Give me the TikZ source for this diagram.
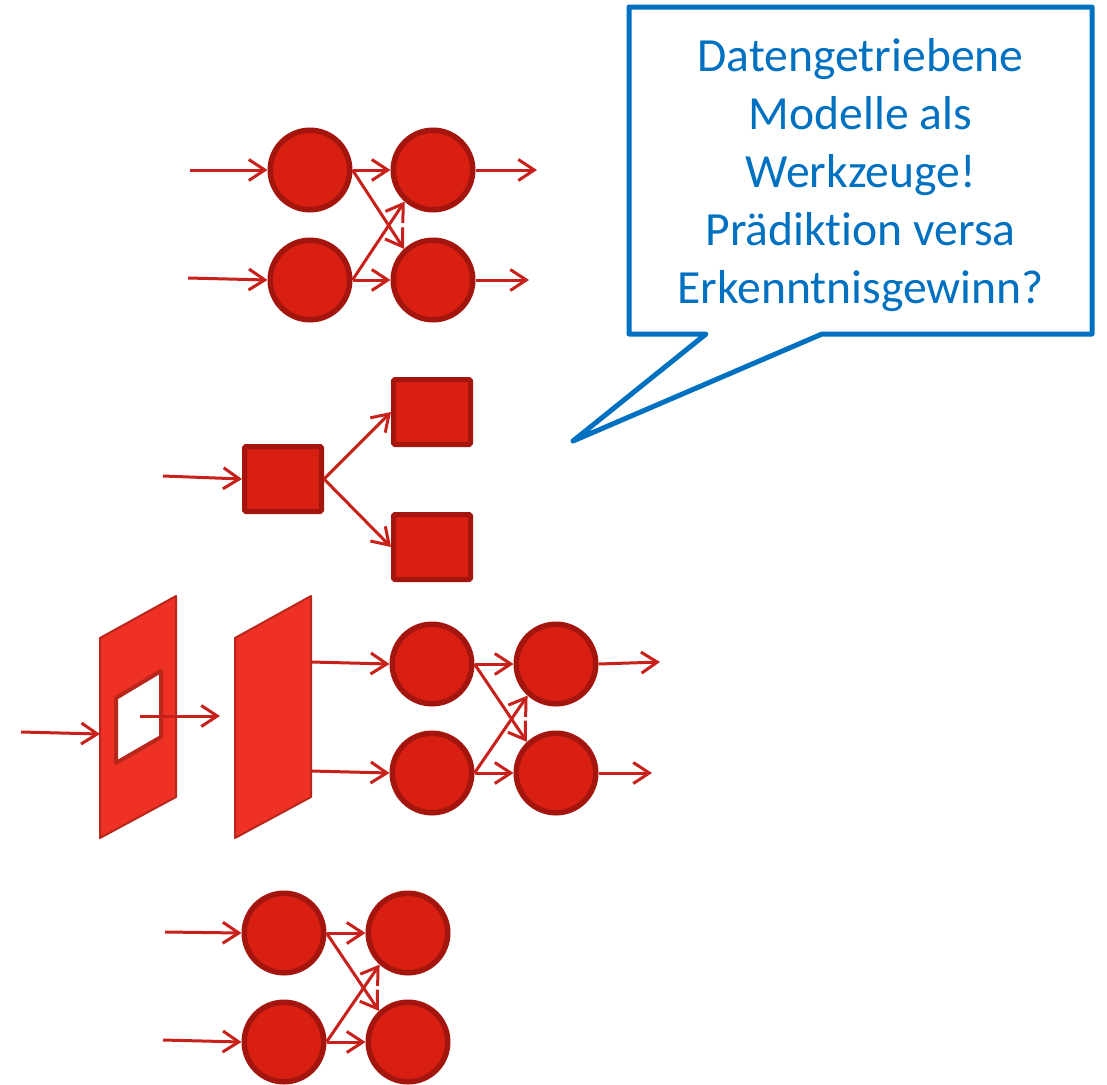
\documentclass[tikz,border=0pt]{standalone}
\usepackage{fontspec}
\setmainfont{Carlito}[Ligatures=NoCommon]
\usetikzlibrary{arrows.meta}
\definecolor{cfill}{HTML}{D91F11}
\definecolor{cedge}{HTML}{A3150D}
\definecolor{aline}{HTML}{C8201A}
\definecolor{pfill}{HTML}{EE3124}
\definecolor{pedge}{HTML}{B9261C}
\definecolor{cblue}{HTML}{0070C0}
\tikzset{
  neuron/.style={circle, fill=cfill, draw=cedge, line width=5.5pt, minimum size=79.5pt, inner sep=0pt},
  treebox/.style={rectangle, fill=cfill, draw=cedge, line width=5pt, minimum width=77pt, minimum height=65pt, inner sep=0pt, rounded corners=1.5pt},
  conn/.style={draw=aline, line width=3pt, -{Straight Barb[length=16pt,width=21pt]}},
  panel/.style={fill=pfill, draw=pedge, line width=2pt, line join=round},
  hole/.style={fill=white, draw=pedge, line width=4pt, line join=round},
  bubble/.style={draw=cblue, line width=5pt, line join=round},
  bubbletext/.style={text=cblue, align=center, inner sep=0pt, font=\fontsize{47.6}{58}\selectfont}
}
\begin{document}
\begin{tikzpicture}[x=1pt,y=-1pt]
\useasboundingbox (0,0) rectangle (1107,1084);

% ---------- group 1 ----------
\node[neuron] (a1) at (310,170) {};
\node[neuron] (a2) at (310,280) {};
\node[neuron] (b1) at (433,170) {};
\node[neuron] (b2) at (433,280) {};
\coordinate (ai1) at (190,170);
\coordinate (ai2) at (188,278);
\coordinate (bo1) at (537,170);
\coordinate (bo2) at (529,280);
\draw[conn] (ai1) -- (a1.west);
\draw[conn] (ai2) -- (a2.west);
\draw[conn] (a1.east) -- (b1.west);
\draw[conn] (a2.east) -- (b2.west);
\draw[conn] (a1.east) -- (b2.133);
\draw[conn] (a2.east) -- (b1.228);
\draw[conn] (b1.east) -- (bo1);
\draw[conn] (b2.east) -- (bo2);

% ---------- group 2 (tree) ----------
\node[treebox] (s0) at (283,479) {};
\node[treebox] (s1) at (432,412) {};
\node[treebox] (s2) at (432,547) {};
\coordinate (si) at (163,476);
\draw[conn] (si) -- (s0.west);
\draw[conn] (s0.east) -- (s1.west);
\draw[conn] (s0.east) -- (s2.west);

% ---------- group 3 (conv) ----------
\draw[panel] (100,638) -- (176,596) -- (176,797) -- (100,838) -- cycle;
\draw[hole] (116,698) -- (161,671) -- (161,737) -- (116,763) -- cycle;
\draw[panel] (235,638) -- (311,596) -- (311,797) -- (235,838) -- cycle;
\coordinate (pin) at (21,732);
\coordinate (pl) at (100,734);
\coordinate (hc) at (140,716);
\coordinate (hn) at (220,716);
\coordinate (p2a) at (311,662);
\coordinate (p2b) at (311,771);
\node[neuron] (c1) at (432,664) {};
\node[neuron] (c2) at (432,773) {};
\node[neuron] (d1) at (556,664) {};
\node[neuron] (d2) at (556,773) {};
\coordinate (do1) at (660,662);
\coordinate (do2) at (652,773);
\draw[conn] (pin) -- (pl);
\draw[conn] (hc) -- (hn);
\draw[conn] (p2a) -- (c1.west);
\draw[conn] (p2b) -- (c2.west);
\draw[conn] (c1.east) -- (d1.west);
\draw[conn] (c2.east) -- (d2.west);
\draw[conn] (c1.east) -- (d2.133);
\draw[conn] (c2.east) -- (d1.228);
\draw[conn] (d1.east) -- (do1);
\draw[conn] (d2.east) -- (do2);

% ---------- group 4 ----------
\node[neuron] (e1) at (284,933) {};
\node[neuron] (e2) at (284,1042) {};
\node[neuron] (f1) at (408,933) {};
\node[neuron] (f2) at (408,1042) {};
\coordinate (ei1) at (165,932);
\coordinate (ei2) at (163,1040);
\draw[conn] (ei1) -- (e1.west);
\draw[conn] (ei2) -- (e2.west);
\draw[conn] (e1.east) -- (f1.west);
\draw[conn] (e2.east) -- (f2.west);
\draw[conn] (e1.east) -- (f2.133);
\draw[conn] (e2.east) -- (f1.228);

% ---------- callout ----------
\draw[bubble] (629,7) -- (1092,7) -- (1092,334) -- (822,334) -- (573,441) -- (706,334) -- (629,334) -- cycle;
\node[bubbletext] (txt) at (860.5,175) {Datengetriebene\\Modelle als\\Werkzeuge!\\Prädiktion versa\\Erkenntnisgewinn?};
\end{tikzpicture}
\end{document}
